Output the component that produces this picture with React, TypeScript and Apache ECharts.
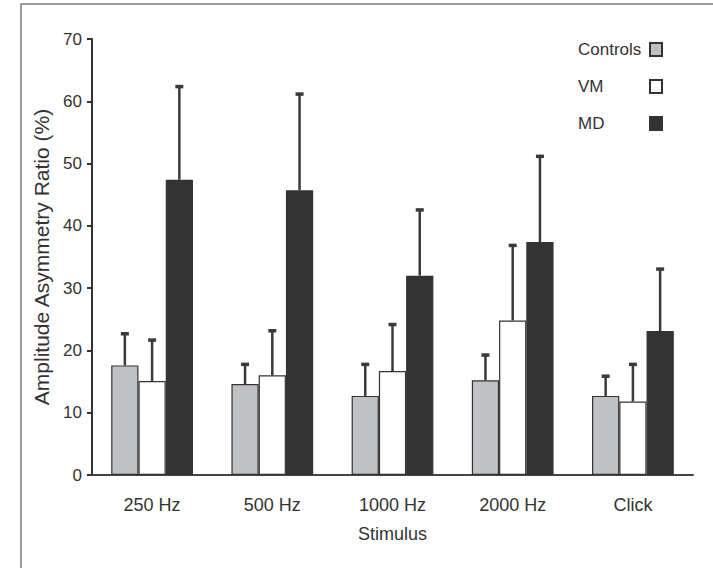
import React, { useEffect, useRef } from "react";
import * as echarts from "echarts";

const categories = ["250 Hz", "500 Hz", "1000 Hz", "2000 Hz", "Click"];
const seriesNames = ["Controls", "VM", "MD"];
const controlsMean = [17.6, 14.6, 12.7, 15.2, 12.7];
const controlsSD = [5.1, 3.2, 5.1, 4.1, 3.2];
const vmMean = [15.1, 16.0, 16.7, 24.8, 11.8];
const vmSD = [6.6, 7.2, 7.5, 12.1, 6.0];
const mdMean = [47.4, 45.7, 32.0, 37.4, 23.1];
const mdSD = [15.0, 15.5, 10.6, 13.8, 10.0];
const yTicks = [0, 10, 20, 30, 40, 50, 60, 70];

const FONT = "'Liberation Sans', Arial, Helvetica, sans-serif";
const INK = "#333333";
const CAT_GAP = 0.32;

const means = [controlsMean, vmMean, mdMean];
const sds = [controlsSD, vmSD, mdSD];
const fills = ["#c0c1c3", "#ffffff", "#333333"];

function errorSeries(k: number) {
  return {
    type: "custom",
    name: seriesNames[k] + " SD",
    z: 5,
    silent: true,
    data: means[k].map((m, i) => [i, m, sds[k][i]]),
    renderItem: (params: any, api: any) => {
      const i = api.value(0);
      const m = api.value(1);
      const sd = api.value(2);
      const base = api.coord([i, m]);
      const top = api.coord([i, m + sd]);
      const catW = api.size([1, 0])[0];
      const barW = (catW * (1 - CAT_GAP)) / 3;
      const px = base[0] + (k - 1) * barW;
      return {
        type: "group",
        children: [
          {
            type: "line",
            shape: { x1: px, y1: base[1], x2: px, y2: top[1] },
            style: { stroke: "#3a3a3a", lineWidth: 2.5 },
          },
          {
            type: "rect",
            shape: { x: px - 4, y: top[1] - 1.5, width: 8, height: 3.5 },
            style: { fill: "#3a3a3a" },
          },
        ],
      };
    },
  };
}

export default function App() {
  const ref = useRef<HTMLDivElement>(null);
  useEffect(() => {
    if (!ref.current) return;
    const chart = echarts.init(ref.current, null, { renderer: "svg" });
    chart.setOption({
      animation: false,
      backgroundColor: "#ffffff",
      textStyle: { fontFamily: FONT },
      graphic: [
        {
          type: "rect",
          shape: { x: 21, y: 4, width: 760, height: 640 },
          style: { fill: "none", stroke: "#7a7a7a", lineWidth: 1.5 },
          z: 0,
        },
      ],
      grid: { left: 92, right: 20, top: 39, bottom: 93 },
      legend: {
        data: seriesNames,
        orient: "vertical",
        left: 573,
        top: 36,
        align: "right",
        icon: "rect",
        itemWidth: 12,
        itemHeight: 13,
        itemGap: 20,
        selectedMode: false,
        formatter: (name: string) => "{a|" + name + "}",
        textStyle: {
          fontFamily: FONT,
          fontSize: 17,
          color: INK,
          rich: { a: { width: 67, align: "left", fontFamily: FONT, fontSize: 17, color: INK } },
        },
      },
      xAxis: {
        type: "category",
        data: categories,
        name: "Stimulus",
        nameLocation: "middle",
        nameGap: 50,
        nameTextStyle: { fontFamily: FONT, fontSize: 18, color: INK },
        axisLine: { lineStyle: { color: "#444", width: 2 } },
        axisTick: { length: 8, lineStyle: { color: "#444", width: 2 } },
        axisLabel: { fontFamily: FONT, fontSize: 18, color: INK, margin: 21 },
      },
      yAxis: {
        type: "value",
        min: yTicks[0],
        max: yTicks[yTicks.length - 1],
        interval: 10,
        name: "Amplitude Asymmetry Ratio (%)",
        nameLocation: "middle",
        nameGap: 27,
        nameTextStyle: { fontFamily: FONT, fontSize: 21, color: INK },
        splitLine: { show: false },
        axisLine: { show: true, lineStyle: { color: "#333", width: 2 } },
        axisTick: { show: true, length: 5, lineStyle: { color: "#333", width: 2 } },
        axisLabel: { fontFamily: FONT, fontSize: 17, color: INK, margin: 10 },
      },
      series: [
        ...seriesNames.map((name, k) => ({
          type: "bar",
          name,
          data: means[k],
          barGap: "0%",
          barCategoryGap: "32%",
          itemStyle: { color: fills[k], borderColor: INK, borderWidth: 1.2 },
          z: 2,
        })),
        errorSeries(0),
        errorSeries(1),
        errorSeries(2),
      ],
    });
    return () => chart.dispose();
  }, []);
  return (
    <div
      ref={ref}
      style={{ position: "fixed", left: 0, top: 0, width: 713, height: 568 }}
    />
  );
}
